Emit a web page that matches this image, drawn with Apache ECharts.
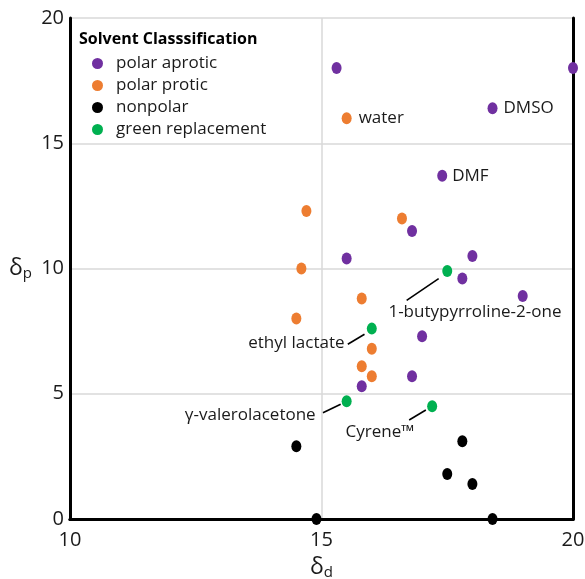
<!DOCTYPE html>
<html><head><meta charset="utf-8">
<script src="https://cdn.jsdelivr.net/npm/echarts@6/dist/echarts.min.js"></script>
<style>html,body{margin:0;padding:0;background:#fff}#c{width:585px;height:579px}</style>
</head><body><div id="c"></div>
<script>
// ---- data ----
const categories = ['polar aprotic', 'polar protic', 'nonpolar', 'green replacement'];
const polarAprotic = [[15.3,18.0],[20.0,18.0],[18.4,16.4],[17.4,13.7],[16.8,11.5],[15.5,10.4],[18.0,10.5],[17.8,9.6],[19.0,8.9],[17.0,7.3],[16.8,5.7],[15.8,5.3]];
const polarProtic = [[15.5,16.0],[14.7,12.3],[16.6,12.0],[14.6,10.0],[15.8,8.8],[14.5,8.0],[16.0,6.8],[15.8,6.1],[16.0,5.7]];
const nonpolar = [[14.5,2.9],[17.8,3.1],[17.5,1.8],[18.0,1.4],[14.9,0.0],[18.4,0.0]];
const greenReplacement = [[17.5,9.9],[16.0,7.6],[15.5,4.7],[17.2,4.5]];
const annotations = [
  [17.5,9.9,'1-butypyrroline-2-one'],
  [16.0,7.6,'ethyl lactate'],
  [15.5,4.7,'γ-valerolacetone'],
  [17.2,4.5,'Cyrene™'],
  [15.5,16.0,'water'],
  [18.4,16.4,'DMSO'],
  [17.4,13.7,'DMF']
];
const xTicks = [10, 15, 20];
const yTicks = [0, 5, 10, 15, 20];

// ---- styles ----
const colors = ['#7030A0', '#ED7D31', '#000000', '#00B050'];
const FONT = 'Open Sans';
const TXT = '#1a1a1a';
const labelStyle = { // pixel offsets relative to the point
  '1-butypyrroline-2-one': {line:[-40.6,29.3,-8.6,7.6], t:[27.7,41.3], align:'center'},
  'ethyl lactate': {line:[-24,15.6,-7.3,5.6], t:[-27.3,15], align:'right'},
  'γ-valerolacetone': {line:[-23.7,11.4,-6,3], t:[-31,13.7], align:'right'},
  'Cyrene™': {line:[-23,13.7,-6.3,3.7], t:[-52.3,25.4], align:'center'},
  'water': {t:[12,0], align:'left'},
  'DMSO': {t:[11,0], align:'left'},
  'DMF': {t:[10,0], align:'left'}
};

const chart = echarts.init(document.getElementById('c'));
const seriesData = [polarAprotic, polarProtic, nonpolar, greenReplacement];
const series = categories.map((name, i) => ({
  name, type: 'scatter', data: seriesData[i], symbol: 'circle', symbolSize: [10, 12],
  itemStyle: {color: colors[i], opacity: 1}, clip: false, z: 5, emphasis: {disabled: true}
}));
series.push({
  type: 'custom', data: annotations, z: 4, silent: true, clip: false,
  renderItem: function (params, api) {
    const p = api.coord([api.value(0), api.value(1)]);
    const name = annotations[params.dataIndex][2];
    const s = labelStyle[name];
    const children = [];
    if (s.line) children.push({type: 'line', shape: {x1: p[0]+s.line[0], y1: p[1]+s.line[1], x2: p[0]+s.line[2], y2: p[1]+s.line[3]}, style: {stroke: '#000', lineWidth: 1.6}});
    children.push({type: 'text', x: p[0]+s.t[0], y: p[1]+s.t[1], style: {text: name, fontFamily: FONT, fontSize: 17, fill: TXT, align: s.align, verticalAlign: 'middle'}});
    return {type: 'group', children};
  }
});

const baseX = {
  type: 'value', min: xTicks[0], max: xTicks[xTicks.length-1], interval: 5,
  name: '{a|δ}{b|d}', nameLocation: 'middle', nameGap: 36,
  nameTextStyle: {rich: {a: {fontFamily: FONT, fontSize: 23, color: TXT}, b: {fontFamily: FONT, fontSize: 15, color: TXT, padding: [10,0,0,0]}}},
  axisLine: {show: true, onZero: false, lineStyle: {color: '#000', width: 3}},
  axisTick: {show: false},
  axisLabel: {fontFamily: FONT, fontSize: 20, color: TXT, margin: 11},
  splitLine: {show: true, lineStyle: {color: '#d9d9d9', width: 1.5}}
};
const baseY = {
  type: 'value', min: yTicks[0], max: yTicks[yTicks.length-1], interval: 5,
  name: '{a|δ}{b|p}', nameLocation: 'middle', nameGap: 38, nameRotate: 0,
  nameTextStyle: {rich: {a: {fontFamily: FONT, fontSize: 23, color: TXT}, b: {fontFamily: FONT, fontSize: 15, color: TXT, padding: [10,0,0,0]}}},
  axisLine: {show: true, onZero: false, lineStyle: {color: '#000', width: 3}},
  axisTick: {show: false},
  axisLabel: {fontFamily: FONT, fontSize: 20, color: TXT, margin: 6},
  splitLine: {show: true, lineStyle: {color: '#d9d9d9', width: 1.5}}
};
const borderX = {type: 'value', position: 'top', min: xTicks[0], max: xTicks[xTicks.length-1], axisLine: {show: true, lineStyle: {color: '#000', width: 3}}, axisTick: {show: false}, axisLabel: {show: false}, splitLine: {show: false}};
const borderY = {type: 'value', position: 'right', min: yTicks[0], max: yTicks[yTicks.length-1], axisLine: {show: true, lineStyle: {color: '#000', width: 3}}, axisTick: {show: false}, axisLabel: {show: false}, splitLine: {show: false}};

chart.setOption({
  animation: false,
  backgroundColor: '#fff',
  grid: {left: 70, right: 12, top: 18, bottom: 60, containLabel: false, outerBoundsMode: 'none'},
  title: {text: 'Solvent Classsification', left: 74, top: 26, textStyle: {fontFamily: FONT, fontSize: 16, fontWeight: 'bold', color: '#000'}},
  legend: {
    orient: 'vertical', left: 87, top: 50, icon: 'circle', itemWidth: 11, itemHeight: 12, itemGap: 5,
    data: categories, selectedMode: false,
    textStyle: {fontFamily: FONT, fontSize: 17, color: TXT, padding: [0,0,0,8]}
  },
  xAxis: [baseX, borderX],
  yAxis: [baseY, borderY],
  series
});
</script></body></html>
